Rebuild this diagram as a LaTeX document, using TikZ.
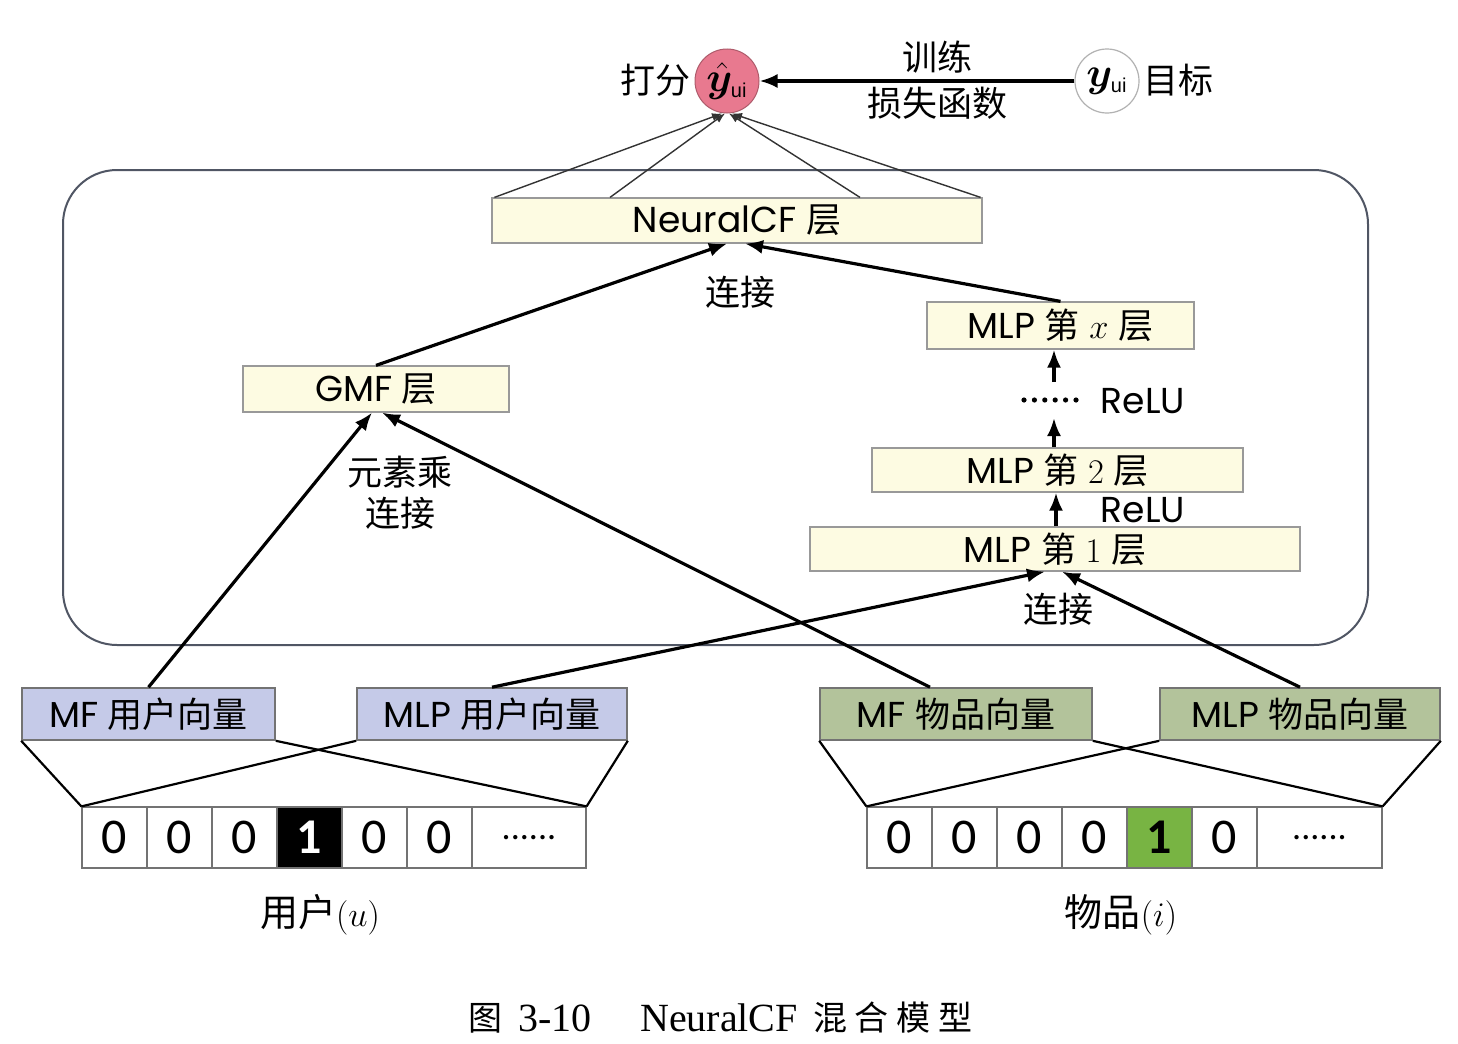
\documentclass[tikz,border=0pt]{standalone}
\usepackage{fontspec}
\usepackage{bm}
\setmainfont{Poppins}[Scale=1.03]
\newfontfamily\cjk{Noto Sans CJK SC}
\newfontfamily\cellfont{Carlito}
\newfontfamily\capserif{Liberation Serif}
\newfontfamily\subf{Liberation Sans}
\usetikzlibrary{arrows.meta}
\definecolor{pinkc}{HTML}{E8798F}
\definecolor{layerbg}{HTML}{FDFBE2}
\definecolor{bluebg}{HTML}{C5CAE8}
\definecolor{greenbg}{HTML}{B3C39B}
\definecolor{cellgreen}{HTML}{78B443}
\definecolor{framec}{HTML}{505664}
\newcommand{\uisub}{\mbox{\subf\fontsize{10}{10}\selectfont ui}}
\begin{document}
\begin{tikzpicture}[x=0.5pt,y=-0.5pt,
  font=\fontsize{17.5}{20}\selectfont,
  layer/.style={draw=black!40, fill=layerbg, line width=0.6pt, inner sep=0pt},
  ubox/.style={draw=black!55, fill=bluebg, line width=0.8pt, inner sep=0pt, minimum height=26pt},
  ibox/.style={draw=black!55, fill=greenbg, line width=0.8pt, inner sep=0pt, minimum height=26pt},
  cell/.style={draw=black!55, line width=0.6pt, minimum height=30.5pt, inner sep=0pt, font=\cellfont\fontsize{25}{28}\selectfont},
  arr/.style={line width=1.6pt, -{Latex[length=9pt,width=7pt]}},
  thinarr/.style={line width=0.7pt, draw=black!80, -{Latex[length=5pt,width=4pt]}},
  funnel/.style={line width=1.1pt},
  lbl/.style={inner sep=0pt}
]
\useasboundingbox (0,0) rectangle (1458,1044);
\fill[white] (0,0) rectangle (1458,1044);

% frame
\node[draw=framec, line width=1pt, rounded corners=27pt, minimum width=652.5pt, minimum height=237.5pt, inner sep=0pt] (frame) at (715.5,407.5) {};

% top circles
\node[circle, fill=pinkc, draw=pinkc!75!black, line width=0.5pt, minimum size=32pt, inner sep=0pt, font=\fontsize{20}{20}\selectfont] (yhat) at (727,81) {$\bm{\hat{y}}_{\uisub}$};
\node[circle, fill=white, draw=black!30, line width=0.6pt, minimum size=32pt, inner sep=0pt, font=\fontsize{20}{20}\selectfont] (yt) at (1107,81) {$\bm{y}_{\uisub}$};
\node[lbl] (dafen) at (655,80) {\cjk 打分};
\node[lbl] (mubiao) at (1178,80) {\cjk 目标};
\node[lbl] (xunlian) at (937,57) {\cjk 训练};
\node[lbl] (sunshi) at (937,103) {\cjk 损失函数};
\draw[arr] (yt) -- (yhat);

% layers
\node[layer, minimum width=245pt, minimum height=22.5pt] (ncf) at (737,220.5) {NeuralCF {\cjk 层}};
\node[layer, minimum width=133pt, minimum height=23pt] (gmf) at (376,389) {GMF {\cjk 层}};
\node[layer, minimum width=133.5pt, minimum height=23.5pt] (mlpx) at (1060.5,325.5) {MLP {\cjk 第} $x$ {\cjk 层}};
\node[layer, minimum width=185.5pt, minimum height=22pt] (mlp2) at (1057.5,470) {MLP {\cjk 第} $2$ {\cjk 层}};
\node[layer, minimum width=245pt, minimum height=22pt] (mlp1) at (1055,549) {MLP {\cjk 第} $1$ {\cjk 层}};

% lines to yhat
\draw[thinarr] ([xshift=1.5pt]ncf.north west) -- ([xshift=-2.5pt]yhat.south);
\draw[thinarr] ([xshift=-63.5pt]ncf.north) -- ([xshift=-1pt]yhat.south);
\draw[thinarr] ([xshift=61.5pt]ncf.north) -- ([xshift=1pt]yhat.south);
\draw[thinarr] ([xshift=-1pt]ncf.north east) -- ([xshift=2.5pt]yhat.south);

% labels
\node[lbl] (lj1) at (740,292) {\cjk 连接};
\node[lbl] (ysc) at (400,472) {\cjk 元素乘};
\node[lbl] (lj2) at (400,513) {\cjk 连接};
\node[lbl] (lj3) at (1058,609) {\cjk 连接};
\node[lbl] (relu1) at (1143,401) {ReLU};
\node[lbl] (relu2) at (1143,510) {ReLU};
\draw[line width=2.6pt, line cap=round, dash pattern=on 0pt off 5.2pt] (1024,400) -- (1084,400);

% vertical MLP arrows
\coordinate (c1) at (1054,382);
\coordinate (c2) at (1054,418);
\coordinate (c3) at (1056,0);
\draw[arr] (c1) -- (c1 |- mlpx.south);
\draw[arr] (c2 |- mlp2.north) -- (c2);
\draw[arr] (c3 |- mlp1.north) -- (c3 |- mlp2.south);

% embeddings
\node[ubox, minimum width=126.5pt] (mfu) at (148.5,714) {MF {\cjk 用户向量}};
\node[ubox, minimum width=135pt] (mlpu) at (492,714) {MLP {\cjk 用户向量}};
\node[ibox, minimum width=136pt] (mfi) at (956,714) {MF {\cjk 物品向量}};
\node[ibox, minimum width=140pt] (mlpi) at (1300,714) {MLP {\cjk 物品向量}};

% arrows
\draw[arr] (mfu.north) -- ([xshift=-2pt]gmf.south);
\draw[arr] ([xshift=-13pt]mfi.north) -- ([xshift=3pt]gmf.south);
\draw[arr] (mlpu.north) -- ([xshift=-5pt]mlp1.south);
\draw[arr] (mlpi.north) -- ([xshift=3.5pt]mlp1.south);
\draw[arr] (gmf.north) -- ([xshift=-5pt]ncf.south);
\draw[arr] (mlpx.north) -- ([xshift=4pt]ncf.south);

% user cells
\foreach \i/\x in {1/114.5,2/179.5,3/244.5,5/374.5,6/439.5}
  \node[cell, minimum width=32.5pt] (u\i) at (\x,837.5) {0};
\node[cell, minimum width=32.5pt, fill=black, text=white] (u4) at (309.5,837.5) {\bfseries 1};
\node[cell, minimum width=57pt, font=\cellfont\fontsize{18}{20}\selectfont] (u7) at (529,837.5) {......};

% item cells
\foreach \i/\x in {1/899.5,2/964.5,3/1029.5,4/1094.5,6/1224.5}
  \node[cell, minimum width=32.5pt] (i\i) at (\x,837.5) {0};
\node[cell, minimum width=32.5pt, fill=cellgreen] (i5) at (1159.5,837.5) {\bfseries 1};
\node[cell, minimum width=62.5pt, font=\cellfont\fontsize{18}{20}\selectfont] (i7) at (1319.5,837.5) {......};

% funnels
\draw[funnel] (mfu.south west) -- (u1.north west);
\draw[funnel] (mfu.south east) -- (u7.north east);
\draw[funnel] (mlpu.south west) -- (u1.north west);
\draw[funnel] (mlpu.south east) -- (u7.north east);
\draw[funnel] (mfi.south west) -- (i1.north west);
\draw[funnel] (mfi.south east) -- (i7.north east);
\draw[funnel] (mlpi.south west) -- (i1.north west);
\draw[funnel] (mlpi.south east) -- (i7.north east);

% bottom labels
\node[lbl, font=\fontsize{19}{22}\selectfont] (user) at (320,915) {{\cjk 用户}$\bigl(u\bigr)$};
\node[lbl, font=\fontsize{19}{22}\selectfont] (item) at (1121,915) {{\cjk 物品}$\bigl(i\bigr)$};

% caption
\node[lbl, font=\fontsize{17}{20}\selectfont\cjk] (cap1) at (485,1018) {图};
\node[lbl, font=\fontsize{20}{22}\selectfont\capserif] (cap2) at (555,1018) {3-10};
\node[lbl, font=\fontsize{20}{22}\selectfont\capserif] (cap3) at (719,1018) {NeuralCF};
\node[lbl, font=\fontsize{17}{20}\selectfont\cjk] (cap4) at (893,1018) {混\hspace{4pt}合\hspace{4pt}模\hspace{4pt}型};
\end{tikzpicture}
\end{document}
